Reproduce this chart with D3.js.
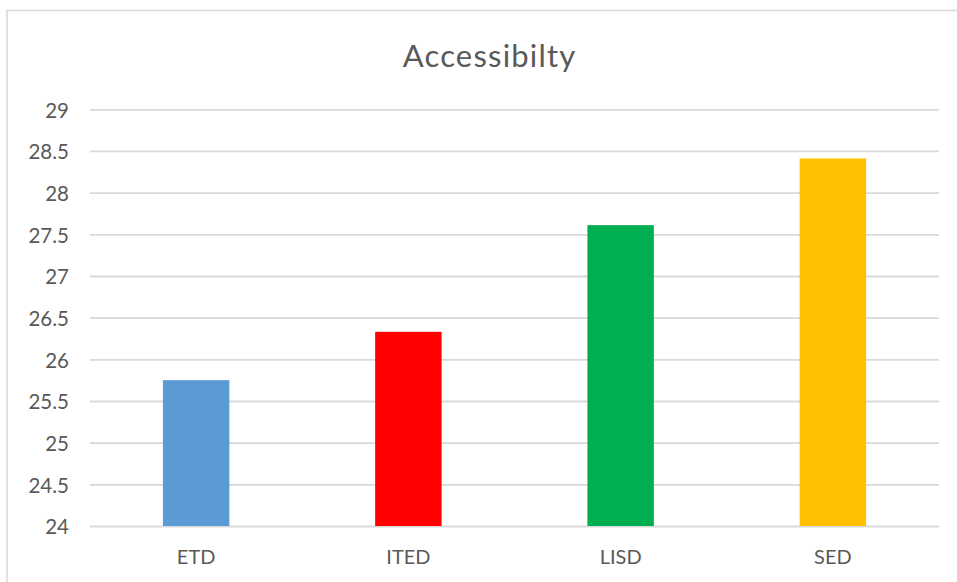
<!DOCTYPE html>
<html>
<head>
<meta charset="utf-8">
<script src="https://cdn.jsdelivr.net/npm/d3@7"></script>
<style>
  html, body { margin: 0; padding: 0; background: #fff; }
  svg { display: block; font-family: Lato, "Open Sans", sans-serif; }
</style>
</head>
<body>
<svg id="chart" width="957" height="582"></svg>
<script>
// Accessibility score per method
const categories = ["ETD", "ITED", "LISD", "SED"];
const values = [25.75, 26.33, 27.61, 28.41];
const barColors = ["#5b9bd5", "#ff0000", "#00b050", "#ffc000"];
const yTicks = [24, 24.5, 25, 25.5, 26, 26.5, 27, 27.5, 28, 28.5, 29];
const chartTitle = "Accessibilty";

const svg = d3.select("#chart");
const W = 957, H = 582;
const plot = { left: 90, right: 939, top: 109.3, bottom: 526 };

// chart area frame (top and left edges visible)
svg.append("path")
  .attr("d", `M7,${H} V10.5 H${W}`)
  .attr("fill", "none")
  .attr("stroke", "#d9d9d9")
  .attr("stroke-width", 1.6);

const x = d3.scaleBand()
  .domain(categories)
  .range([plot.left, plot.right])
  .paddingInner(0.687)
  .paddingOuter(0.3435);

const y = d3.scaleLinear()
  .domain([24, 29])
  .range([plot.bottom, plot.top]);

// horizontal gridlines + tick labels
const yAxis = d3.axisLeft(y)
  .tickValues(yTicks)
  .tickFormat(d3.format("~g"))
  .tickSize(-(plot.right - plot.left))
  .tickPadding(21);

const gy = svg.append("g")
  .attr("transform", `translate(${plot.left},0)`)
  .call(yAxis);
gy.select(".domain").remove();
gy.selectAll(".tick line")
  .attr("stroke", "#d9d9d9")
  .attr("stroke-width", 1.8);
gy.selectAll(".tick text")
  .attr("fill", "#595959")
  .attr("font-size", 20.5)
  .attr("dy", "0.38em")
  .attr("font-family", "Lato, 'Open Sans', sans-serif");

// bars
svg.append("g")
  .selectAll("rect")
  .data(categories)
  .join("rect")
  .attr("x", d => x(d))
  .attr("width", x.bandwidth())
  .attr("y", (d, i) => y(values[i]))
  .attr("height", (d, i) => y(24) - y(values[i]))
  .attr("fill", (d, i) => barColors[i]);

// category axis
const xAxis = d3.axisBottom(x).tickSize(0).tickPadding(24);
const gx = svg.append("g")
  .attr("transform", `translate(0,${plot.bottom})`)
  .call(xAxis);
gx.select(".domain").remove();
gx.selectAll(".tick text")
  .attr("fill", "#595959")
  .attr("font-size", 20)
  .attr("font-family", "Lato, 'Open Sans', sans-serif");

// title
svg.append("text")
  .attr("x", 489.6)
  .attr("y", 66.5)
  .attr("text-anchor", "middle")
  .attr("fill", "#595959")
  .attr("font-size", 31)
  .attr("letter-spacing", "1.2px")
  .text(chartTitle);
</script>
</body>
</html>
